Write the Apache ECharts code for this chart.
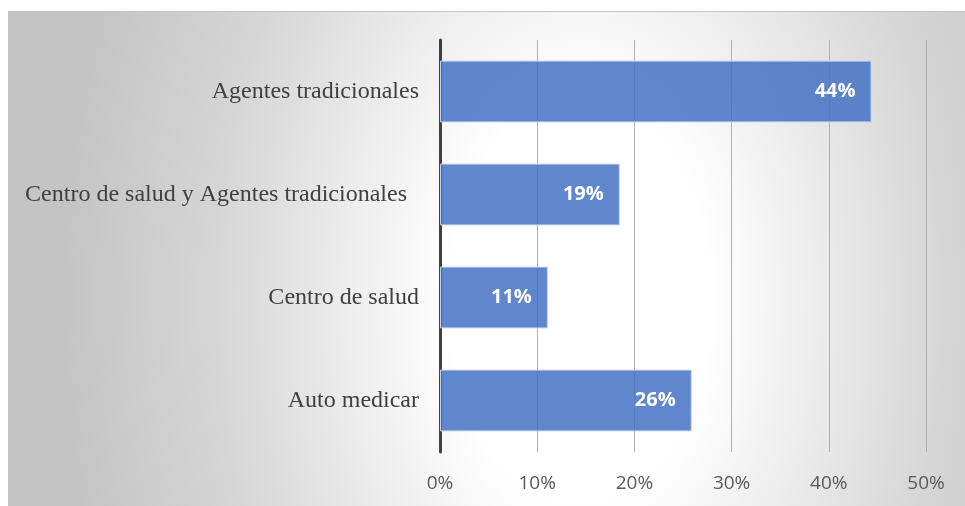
<!DOCTYPE html>
<html><head><meta charset="utf-8">
<script src="https://cdn.jsdelivr.net/npm/echarts@6/dist/echarts.min.js"></script>
<style>html,body{margin:0;padding:0;background:#fff}#c{width:965px;height:506px}</style>
</head><body><div id="c"></div>
<script>
const categories = ["Auto medicar", "Centro de salud", "Centro de salud y Agentes tradicionales  ", "Agentes tradicionales"];
const values = [25.9, 11.1, 18.5, 44.4];
const xTicks = [0, 10, 20, 30, 40, 50];

const chart = echarts.init(document.getElementById('c'), null, {renderer: 'canvas'});
const cx = 580, cy = 300, rx = 520, ry = 800;
const S = 3000;
chart.setOption({
  backgroundColor: '#ffffff',
  animation: false,
  graphic: [
    {
      type: 'rect', z: -10, silent: true,
      x: cx - (S / 2) * (rx / 500), y: cy - (S / 2) * (ry / 500), scaleX: rx / 500, scaleY: ry / 500,
      shape: {x: 0, y: 0, width: S, height: S},
      style: {
        fill: {type: 'radial', x: 0.5, y: 0.5, r: 500 / S,
          colorStops: [{offset: 0, color: '#ffffff'}, {offset: 0.25, color: '#ffffff'}, {offset: 0.7, color: '#d6d6d6'}, {offset: 1, color: '#c4c4c4'}]}
      }
    },
    {type: 'rect', z: -9, silent: true, shape: {x: 0, y: 0, width: 965, height: 11}, style: {fill: '#ffffff'}},
    {type: 'rect', z: -9, silent: true, shape: {x: 0, y: 0, width: 8, height: 506}, style: {fill: '#ffffff'}},
    {type: 'rect', z: -8, silent: true, shape: {x: 8.5, y: 11.5, width: 970, height: 500}, style: {fill: null, stroke: '#c4c4c4', lineWidth: 1}}
  ],
  grid: {left: 440, right: 39, top: 40, bottom: 54, containLabel: false},
  xAxis: {
    type: 'value', min: 0, max: 50, interval: 10,
    axisLine: {show: false}, axisTick: {show: false},
    splitLine: {show: true, lineStyle: {color: '#b0b0b0', width: 1}},
    axisLabel: {formatter: v => v + '%', color: '#595959', fontFamily: 'Open Sans', fontSize: 19, margin: 22}
  },
  yAxis: {
    type: 'category', data: categories,
    axisLine: {show: true, lineStyle: {color: '#404040', width: 3}},
    axisTick: {show: false},
    axisLabel: {color: '#404040', fontFamily: 'Liberation Serif', fontSize: 24, margin: 21}
  },
  series: [{
    type: 'bar', data: values, barWidth: '60%',
    itemStyle: {color: 'rgba(68,114,196,0.85)', borderColor: '#c8d4ec', borderWidth: 1},
    label: {show: true, position: 'insideRight', distance: 16,
      formatter: p => Math.round(p.value) + '%',
      color: '#ffffff', fontWeight: 'bold', fontFamily: 'Open Sans', fontSize: 20}
  }]
});
</script></body></html>
